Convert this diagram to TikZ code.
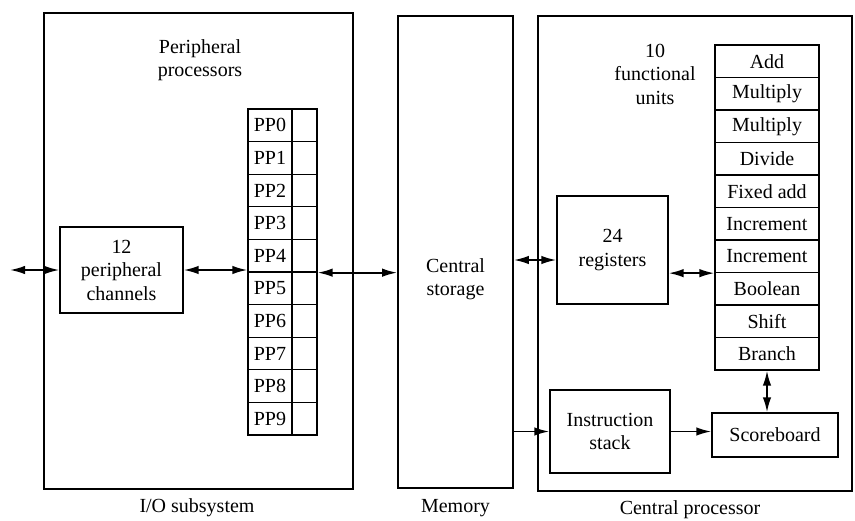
\documentclass[tikz,border=0pt]{standalone}
\usepackage{fontspec}
\setmainfont{Liberation Serif}
\usetikzlibrary{arrows.meta}
\begin{document}
\begin{tikzpicture}[x=1pt,y=-1pt,
  every node/.style={font=\fontsize{20}{23.5}\selectfont, inner sep=0pt},
  frame/.style={draw, line width=1.8pt},
  unitbox/.style={draw, line width=1.4pt, align=center},
  cell/.style={draw, line width=1.3pt, minimum height=32.6pt},
  fucell/.style={draw, line width=1.3pt, minimum height=32.5pt, minimum width=104pt},
  label/.style={align=center},
  link/.style={line width=1.8pt},
  dbl/.style={link, {Latex[length=15pt,width=8.5pt]}-{Latex[length=15pt,width=8.5pt]}},
  one/.style={link, -{Latex[length=15pt,width=8.5pt]}}
]
\useasboundingbox (0,0) rectangle (855,520);

% subsystem frames
\node[frame, minimum width=309pt, minimum height=476pt] (io) at (198.5,251) {};
\node[frame, minimum width=115pt, minimum height=472pt] (mem) at (455.5,252) {};
\node[frame, minimum width=314pt, minimum height=475pt] (cp) at (695,253.5) {};

% peripheral processor column
\foreach \i in {0,...,9} {
  \node[cell, minimum width=44pt] (pp\i) at (270,{109+32.6*(\i+0.5)}) {PP\i};
  \node[cell, minimum width=25pt] (pq\i) at (304.5,{109+32.6*(\i+0.5)}) {};
}
\node[label] (pplabel) at (200,60) {Peripheral\\processors};
\node[unitbox, minimum width=123pt, minimum height=86pt] (chan) at (121.5,270) {12\\peripheral\\channels};

% memory
\node[label] (store) at (455.5,279) {Central\\storage};

% central processor
\foreach \n/\t in {1/Add,2/Multiply,3/Multiply,4/Divide,5/Fixed add,6/Increment,7/Increment,8/Boolean,9/Shift,10/Branch} {
  \node[fucell] (fu\n) at (767,{45+32.5*(\n-0.5)}) {\t};
}
\node[label] (fulabel) at (655,74) {10\\functional\\units};
\node[unitbox, minimum width=111pt, minimum height=108pt] (reg) at (612.5,250) {24\\registers};
\node[unitbox, minimum width=120pt, minimum height=83pt] (stack) at (610,431.5) {Instruction\\stack};
\node[unitbox, minimum width=126pt, minimum height=44pt] (sb) at (775,435) {Scoreboard};

% captions
\node (iocap) at (197,508) {I/O subsystem};
\node (memcap) at (455.5,508) {Memory};
\node (cpcap) at (690,510) {Central processor};

% connections
\coordinate (outside) at (10,270);
\draw[dbl] (outside) -- (chan.west);
\draw[dbl] (chan.east) -- (chan.east -| pp4.west);
\draw[dbl] (pq4.south east) -- (pq4.south east -| mem.west);
\draw[dbl] ([yshift=-10pt]reg.west -| mem.east) -- ([yshift=-10pt]reg.west);
\draw[dbl] (fu7.south west -| reg.east) -- (fu7.south west);
\draw[one] (stack.west -| mem.east) -- (stack.west);
\draw[one] (stack.east) -- (stack.east -| sb.west);
\draw[dbl] (fu10.south) -- (fu10.south |- sb.north);
\end{tikzpicture}
\end{document}
